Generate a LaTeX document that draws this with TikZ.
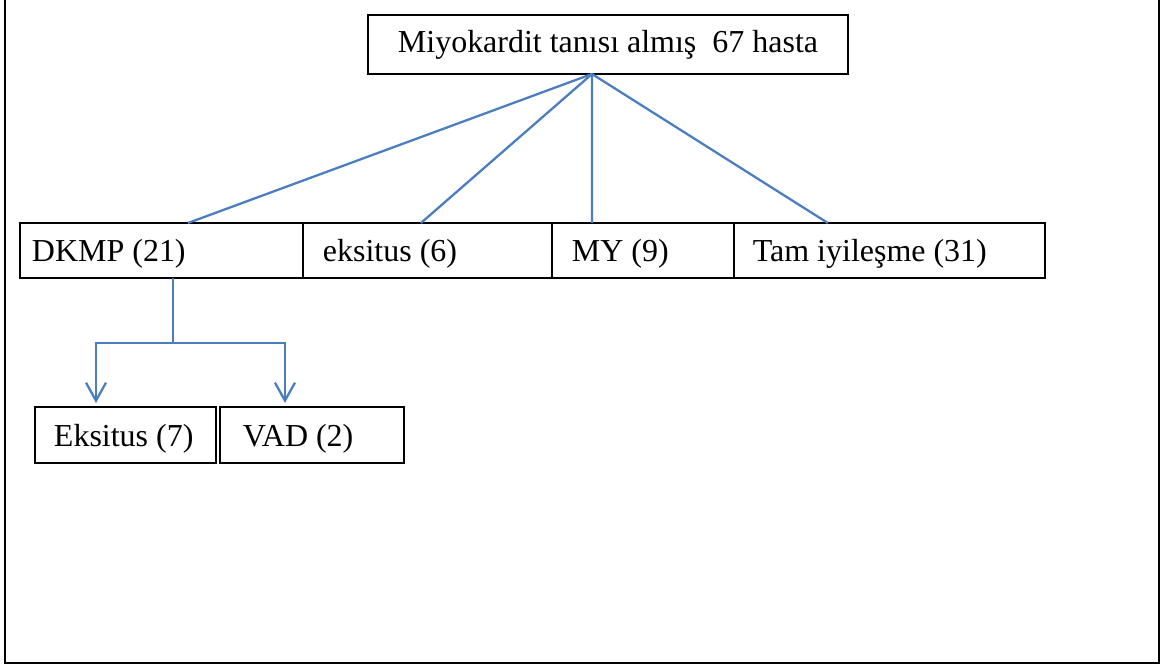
\documentclass[tikz,border=0pt]{standalone}
\usepackage{fontspec}
\setmainfont{Liberation Serif}
\usetikzlibrary{positioning,arrows.meta}
\definecolor{linkblue}{RGB}{74,126,193}

\begin{document}
\begin{tikzpicture}[x=0.02cm, y=-0.02cm,
boxnode/.style={rectangle, draw=black, line width=1.1pt, outer sep=0pt, align=flush left, font=\fontsize{18.2}{21}\selectfont, text depth=0pt},
rownode/.style={boxnode, minimum height=1.1cm, text height=0.46cm},
leafnode/.style={boxnode, minimum height=1.12cm, text height=0.48cm},
link/.style={linkblue, line width=1.3pt},
tip/.style={-{Straight Barb[length=0.36cm, width=0.4cm]}},
]
\useasboundingbox (0,0) rectangle (1162,665);
%Frame
\draw[line width=1.2pt] (5,0) -- (5,663) -- (1159,663) -- (1159,0);

%Nodes
\node[boxnode, minimum width=9.6cm, minimum height=1.18cm, text height=0.34cm] (Total) at (608,44.5) {Miyokardit tanısı almış~~67 hasta};
\node[rownode, inner xsep=0.24cm, text width=5.18cm, anchor=west] (DKMP) at (20,250.5) {DKMP (21)};
\node[rownode, inner xsep=0.4cm, text width=4.18cm] (Eksitus) [right=0pt of DKMP] {eksitus (6)};
\node[rownode, inner xsep=0.4cm, text width=2.84cm] (MY) [right=0pt of Eksitus] {MY (9)};
\node[rownode, inner xsep=0.38cm, text width=5.46cm] (Tam) [right=0pt of MY] {Tam iyileşme (31)};
\node[leafnode, inner xsep=0.38cm, text width=2.86cm, anchor=west] (EksitusDKMP) at (35,435) {Eksitus (7)};
\node[leafnode, inner xsep=0.46cm, text width=2.76cm] (VAD) [right=0.08cm of EksitusDKMP] {VAD (2)};

%Lines
\coordinate (Apex) at ([xshift=-0.32cm]Total.south);
\draw[link] (Apex) -- ([xshift=3.36cm]DKMP.north west);
\draw[link] (Apex) -- ([xshift=2.36cm]Eksitus.north west);
\draw[link] (Apex) -- ([xshift=0.8cm]MY.north west);
\draw[link] (Apex) -- ([xshift=1.88cm]Tam.north west);
\coordinate (Split) at ([xshift=0.23cm, yshift=-1.3cm]DKMP.south);
\draw[link] ([xshift=0.23cm]DKMP.south) -- (Split);
\draw[link, tip] (Split) -| ([xshift=-0.59cm, yshift=0.08cm]EksitusDKMP.north);
\draw[link, tip] (Split) -| ([xshift=-0.54cm, yshift=0.08cm]VAD.north);
\end{tikzpicture}
\end{document}
